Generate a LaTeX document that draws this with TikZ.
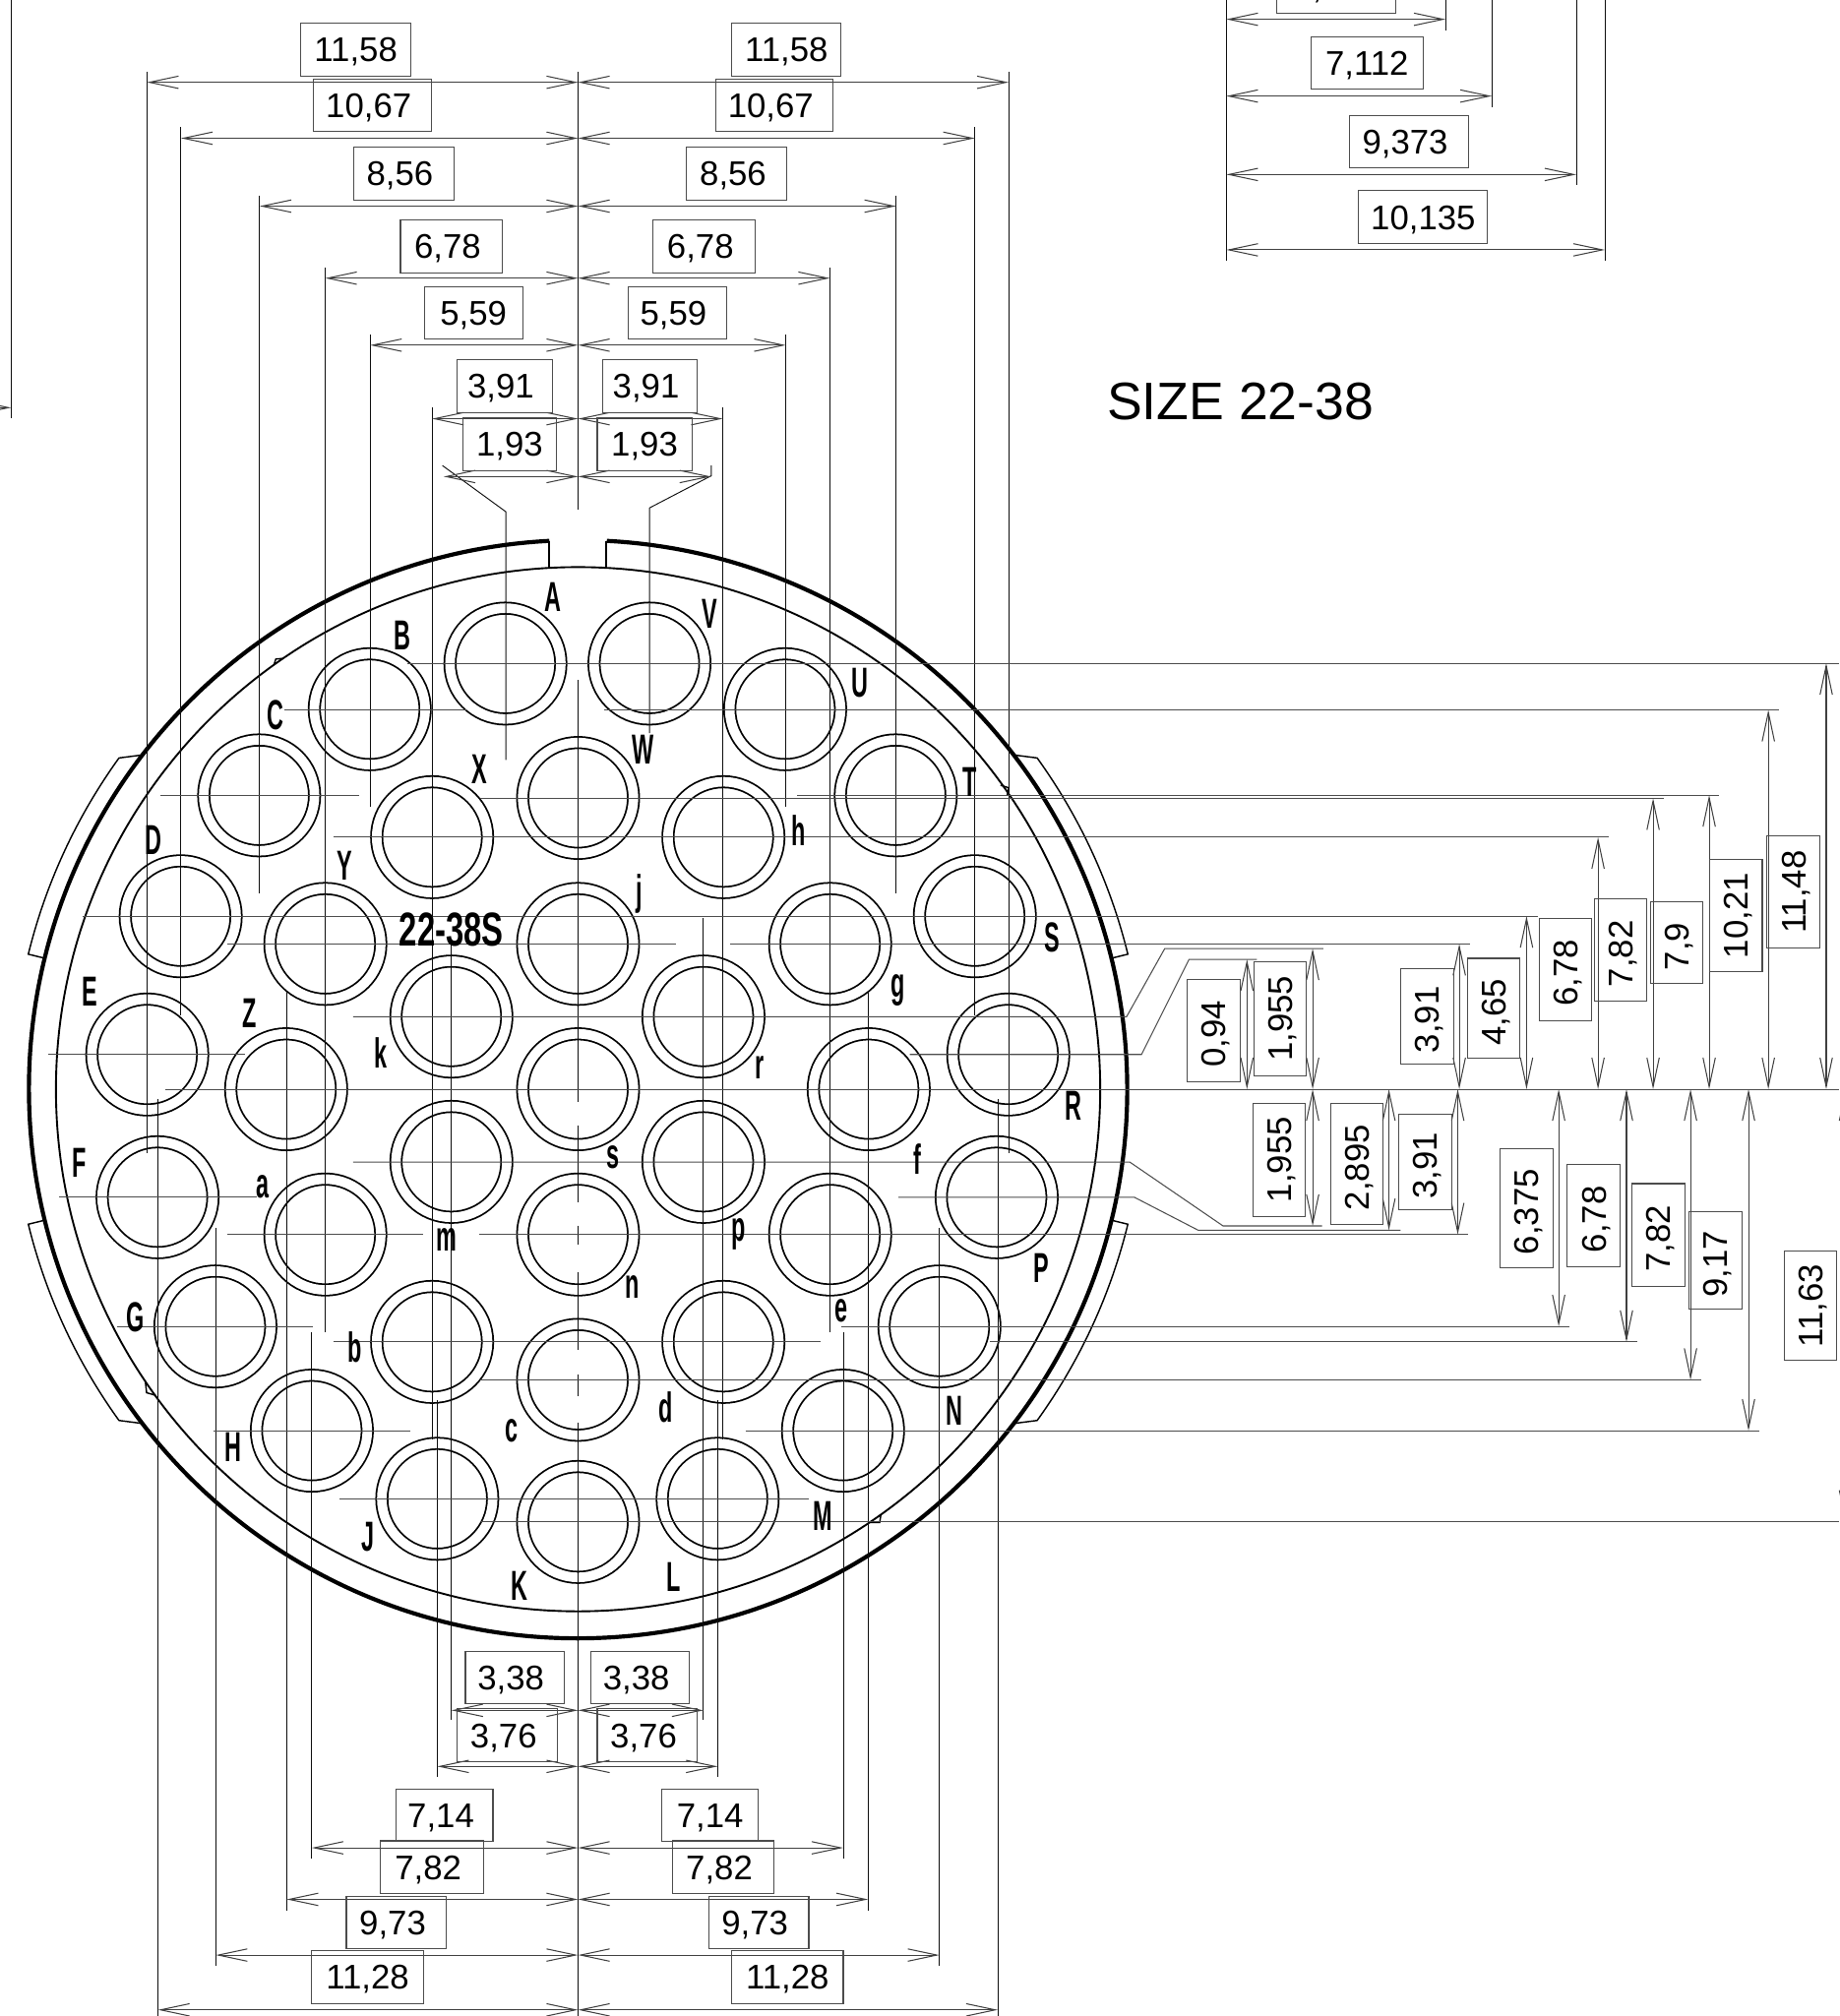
\documentclass[tikz,border=0pt]{standalone}
\usepackage{fontspec}
\setmainfont{Liberation Sans}
\usetikzlibrary{arrows.meta,calc}
\newcommand{\narrowtext}[1]{\scalebox{.55}[1]{\bfseries #1}}
\newcommand{\dimtext}[1]{#1\kern3pt}
\tikzset{
    pinring/.style={circle,draw,double,line width=.68pt,double distance=3.72pt,minimum size=43.1pt,inner sep=0pt},
    pinlabel/.style={font=\fontsize{16.3}{18}\selectfont,inner sep=0pt},
    rimline/.style={line width=1.6pt},
    wallline/.style={line width=.72pt},
    tabline/.style={line width=.55pt},
    extline/.style={line width=.36pt,black!95},
    rowline/.style={line width=.4pt,black!70},
    dimarrow/.style={line width=.4pt,black!75,{Straight Barb[length=11.3pt,width=4.8pt]}-{Straight Barb[length=11.3pt,width=4.8pt]}},
    dimbox/.style={draw,line width=.4pt,black!70,text=black,font=\fontsize{13.3}{15}\selectfont,inner sep=0pt,minimum height=20.5pt,text height=9.5pt,text depth=0pt},
    dimboxv/.style={dimbox,rotate=90}
}
\begin{document}
\begin{tikzpicture}[x=0.5pt,y=-0.5pt]
    \useasboundingbox (0,0) rectangle (1430,1567.7);
    \coordinate (ctr) at (449.5,847);
    % contacts
    \node[pinring] (pinA) at (393,516) {};
    \node[pinring] (pinV) at (505,516) {};
    \node[pinring] (pinB) at (287.5,551.5) {};
    \node[pinring] (pinU) at (610.5,551.5) {};
    \node[pinring] (pinC) at (201.5,618.5) {};
    \node[pinring] (pinT) at (696.5,618.5) {};
    \node[pinring] (pinX) at (336,651) {};
    \node[pinring] (pinW) at (449.5,620.5) {};
    \node[pinring] (pinh) at (562.5,651) {};
    \node[pinring] (pinD) at (140.5,712.5) {};
    \node[pinring] (pinY) at (253,734) {};
    \node[pinring] (pinj) at (449.5,734) {};
    \node[pinring] (ping) at (645.5,734) {};
    \node[pinring] (pinS) at (758,712.5) {};
    \node[pinring] (pink) at (351,790.5) {};
    \node[pinring] (pinr) at (547,790.5) {};
    \node[pinring] (pinE) at (114.5,820) {};
    \node[pinring] (pinR) at (784,820) {};
    \node[pinring] (pinZ) at (222.5,847) {};
    \node[pinring] (pint) at (449.5,847) {};
    \node[pinring] (pinf) at (675.5,847) {};
    \node[pinring] (pinm) at (351,903.5) {};
    \node[pinring] (pins) at (547,903.5) {};
    \node[pinring] (pinF) at (122.5,931) {};
    \node[pinring] (pinP) at (775,931) {};
    \node[pinring] (pina) at (253,960) {};
    \node[pinring] (pinn) at (449.5,960) {};
    \node[pinring] (pinp) at (645.5,960) {};
    \node[pinring] (pinG) at (167.5,1031.5) {};
    \node[pinring] (pinN) at (730.5,1031.5) {};
    \node[pinring] (pinb) at (336,1043.5) {};
    \node[pinring] (pind) at (562.5,1043.5) {};
    \node[pinring] (pinc) at (449.5,1073) {};
    \node[pinring] (pinH) at (242.5,1112.5) {};
    \node[pinring] (pinM) at (655.5,1112.5) {};
    \node[pinring] (pinJ) at (340,1165.5) {};
    \node[pinring] (pinL) at (558,1165.5) {};
    \node[pinring] (pinK) at (449.5,1183.5) {};
    % shell, wall and key
    \draw[rimline] (ctr) ++(93:213.5pt) arc[start angle=93,end angle=447,radius=213.5pt];
    \draw[wallline] (ctr) circle (406);
    \draw[wallline] (427,421) -- (427,441.6);
    \draw[wallline] (471,421) -- (471,441.6);
    % bayonet tabs
    \draw[tabline] (ctr) ++(13.8:213.5pt) -- ++(13.8:6.6pt) arc[start angle=13.8,end angle=35.8,radius=220.25pt] -- ($(ctr)+(37.5:213.5pt)$);
    \draw[tabline] (ctr) ++(166.2:213.5pt) -- ++(166.2:6.6pt) arc[start angle=166.2,end angle=144.2,radius=220.25pt] -- ($(ctr)+(142.5:213.5pt)$);
    \draw[tabline] (ctr) ++(-13.8:213.5pt) -- ++(-13.8:6.6pt) arc[start angle=-13.8,end angle=-35.8,radius=220.25pt] -- ($(ctr)+(-37.5:213.5pt)$);
    \draw[tabline] (ctr) ++(-166.2:213.5pt) -- ++(-166.2:6.6pt) arc[start angle=-166.2,end angle=-144.2,radius=220.25pt] -- ($(ctr)+(-142.5:213.5pt)$);
    % small marks on the wall
    \draw[tabline] (213,517) -- (214.5,512.5) -- (220,512);
    \draw[tabline] (778,610.6) -- (784.4,612.6) -- (783.2,618.4);
    \draw[tabline] (113,1074) -- (114,1083) -- (121,1085);
    \draw[tabline] (685,1177.7) -- (684,1184) -- (676,1184);
    % extension lines, top
    \draw[extline] (114.3,55.6) -- (114.3,896.6);
    \draw[extline] (140.7,98.8) -- (140.7,789.6);
    \draw[extline] (201.9,152) -- (201.9,695);
    \draw[extline] (252.9,207.8) -- (252.9,1036);
    \draw[extline] (287.8,260) -- (287.8,627.6);
    \draw[extline] (336,316.6) -- (336,1119.6);
    \draw[extline] (344,362) -- (393.4,398) -- (393.4,591);
    \draw[extline] (553,362) -- (553,370) -- (505,395) -- (505,570);
    \draw[extline] (562,316.6) -- (562,1119.6);
    \draw[extline] (611,260) -- (611,627.6);
    \draw[extline] (645.3,207.8) -- (645.3,1036);
    \draw[extline] (696.8,152) -- (696.8,695);
    \draw[extline] (758,98.8) -- (758,789.6);
    \draw[extline] (784.3,55.6) -- (784.3,896.6);
    \draw[extline] (449.5,55.6) -- (449.5,396);
    % centre line
    \draw[extline] (449.5,529) -- (449.5,857);
    \draw[extline] (449.5,875) -- (449.5,935);
    \draw[extline] (449.5,953) -- (449.5,968);
    \draw[extline] (449.5,989) -- (449.5,1050);
    \draw[extline] (449.5,1069) -- (449.5,1086);
    \draw[extline] (449.5,1106) -- (449.5,1568);
    % extension lines, bottom
    \draw[extline] (122.9,854.6) -- (122.9,1568);
    \draw[extline] (167.8,955) -- (167.8,1528.5);
    \draw[extline] (222.9,771) -- (222.9,1485.6);
    \draw[extline] (242.4,1036) -- (242.4,1445.5);
    \draw[extline] (340,1089) -- (340,1382);
    \draw[extline] (351,734) -- (351,1337.7);
    \draw[extline] (547,714) -- (547,1337.7);
    \draw[extline] (558,1089) -- (558,1382);
    \draw[extline] (655.7,1036) -- (655.7,1445.5);
    \draw[extline] (675,771) -- (675,1485.6);
    \draw[extline] (730.4,955) -- (730.4,1528.5);
    \draw[extline] (775.8,854.6) -- (775.8,1568);
    % extension lines, top right and top left
    \draw[extline] (953.6,0) -- (953.6,202.8);
    \draw[extline] (1124,0) -- (1124,23.5);
    \draw[extline] (1160,0) -- (1160,83.4);
    \draw[extline] (1225.7,0) -- (1225.7,144);
    \draw[extline] (1247.9,0) -- (1247.9,202.8);
    \draw[extline] (8.6,0) -- (8.6,325);
    % row lines
    \draw[rowline] (317,515.7) -- (1430,515.7);
    \draw[rowline] (221,552) -- (363,552);
    \draw[rowline] (470,552) -- (1383,552);
    \draw[rowline] (125,618.3) -- (279,618.3);
    \draw[rowline] (620,618.3) -- (1337,618.3);
    \draw[rowline] (373,620.8) -- (1294,620.8);
    \draw[rowline] (259,651) -- (1251,651);
    \draw[rowline] (64,712.4) -- (1195.6,712.4);
    \draw[rowline] (177,734) -- (525.5,734);
    \draw[rowline] (568,734) -- (1143,734);
    \draw[rowline] (274.6,790.6) -- (876,790.6) -- (905.7,737.6) -- (1029,737.6);
    \draw[rowline] (37.7,820) -- (190.6,820);
    \draw[rowline] (707.5,820) -- (887.6,820) -- (924.6,746) -- (977.4,746);
    \draw[rowline] (128.5,847) -- (1430,847);
    \draw[rowline] (274.6,903.6) -- (878.4,903.6) -- (951,953.3) -- (1028,953.3);
    \draw[rowline] (46,931) -- (199.6,931);
    \draw[rowline] (698.6,931) -- (882,931) -- (931.6,956.6) -- (1089,956.6);
    \draw[rowline] (177,960) -- (329,960);
    \draw[rowline] (372.6,960) -- (1141.6,960);
    \draw[rowline] (90.7,1031.4) -- (243.4,1031.4);
    \draw[rowline] (654,1031.4) -- (1220,1031.4);
    \draw[rowline] (259,1043.5) -- (638,1043.5);
    \draw[rowline] (770,1043.5) -- (1273,1043.5);
    \draw[rowline] (373.5,1073) -- (1323,1073);
    \draw[rowline] (166,1112.5) -- (319,1112.5);
    \draw[rowline] (579.6,1112.5) -- (1368,1112.5);
    \draw[rowline] (264,1165.4) -- (629,1165.4);
    \draw[rowline] (373.5,1183.4) -- (1430,1183.4);
    % dimension arrows, top
    \draw[dimarrow] (114.3,64) -- (449.5,64);
    \draw[dimarrow] (449.5,64) -- (784.3,64);
    \draw[dimarrow] (140.7,107.5) -- (449.5,107.5);
    \draw[dimarrow] (449.5,107.5) -- (758,107.5);
    \draw[dimarrow] (201.9,160.3) -- (449.5,160.3);
    \draw[dimarrow] (449.5,160.3) -- (696.8,160.3);
    \draw[dimarrow] (252.9,216.3) -- (449.5,216.3);
    \draw[dimarrow] (449.5,216.3) -- (645.3,216.3);
    \draw[dimarrow] (287.8,268.4) -- (449.5,268.4);
    \draw[dimarrow] (449.5,268.4) -- (611,268.4);
    \draw[dimarrow] (336,325.6) -- (449.5,325.6);
    \draw[dimarrow] (449.5,325.6) -- (562,325.6);
    \draw[dimarrow] (345,370.6) -- (449.5,370.6);
    \draw[dimarrow] (449.5,370.6) -- (553,370.6);
    % dimension arrows, bottom
    \draw[dimarrow] (351,1330) -- (449.5,1330);
    \draw[dimarrow] (449.5,1330) -- (547,1330);
    \draw[dimarrow] (340,1373.6) -- (449.5,1373.6);
    \draw[dimarrow] (449.5,1373.6) -- (558,1373.6);
    \draw[dimarrow] (242.4,1436.9) -- (449.5,1436.9);
    \draw[dimarrow] (449.5,1436.9) -- (655.7,1436.9);
    \draw[dimarrow] (222.9,1477) -- (449.5,1477);
    \draw[dimarrow] (449.5,1477) -- (675,1477);
    \draw[dimarrow] (167.8,1520.3) -- (449.5,1520.3);
    \draw[dimarrow] (449.5,1520.3) -- (730.4,1520.3);
    \draw[dimarrow] (122.9,1562.9) -- (449.5,1562.9);
    \draw[dimarrow] (449.5,1562.9) -- (775.8,1562.9);
    % dimension arrows, top right and top left
    \draw[dimarrow] (953.6,15) -- (1124,15);
    \draw[dimarrow] (953.6,74.7) -- (1160,74.7);
    \draw[dimarrow] (953.6,135.7) -- (1225.7,135.7);
    \draw[dimarrow] (953.6,194.3) -- (1247.9,194.3);
    \draw[dimarrow] (-60,317) -- (8.6,317);
    % dimension arrows, right
    \draw[dimarrow] (1420,515.7) -- (1420,847);
    \draw[dimarrow] (1375,552) -- (1375,847);
    \draw[dimarrow] (1329,618.3) -- (1329,847);
    \draw[dimarrow] (1285.4,620.8) -- (1285.4,847);
    \draw[dimarrow] (1242.6,651) -- (1242.6,847);
    \draw[dimarrow] (1187,712.4) -- (1187,847);
    \draw[dimarrow] (1134.7,734) -- (1134.7,847);
    \draw[dimarrow] (1020.7,737.6) -- (1020.7,847);
    \draw[dimarrow] (969.6,746) -- (969.6,847);
    \draw[dimarrow] (1020.7,847) -- (1020.7,953.3);
    \draw[dimarrow] (1080,847) -- (1080,956.6);
    \draw[dimarrow] (1133.5,847) -- (1133.5,960);
    \draw[dimarrow] (1212,847) -- (1212,1031.4);
    \draw[dimarrow] (1264.7,847) -- (1264.7,1043.5);
    \draw[dimarrow] (1314.5,847) -- (1314.5,1073);
    \draw[dimarrow] (1359.6,847) -- (1359.6,1112.5);
    \draw[dimarrow] (1435,847) -- (1435,1183.4);
    % dimension boxes, top
    \node[dimbox,minimum width=42.7pt] (boxTal) at (276.7,38.7) {11,58};
    \node[dimbox,minimum width=42.5pt] (boxTar) at (611.5,38.7) {11,58};
    \node[dimbox,minimum width=45.7pt] (boxTbl) at (289.7,82) {\dimtext{10,67}};
    \node[dimbox,minimum width=45.7pt] (boxTbr) at (602.3,82) {\dimtext{10,67}};
    \node[dimbox,minimum width=39pt] (boxTcl) at (314,134.9) {\dimtext{8,56}};
    \node[dimbox,minimum width=39pt] (boxTcr) at (573,134.9) {\dimtext{8,56}};
    \node[dimbox,minimum width=39.7pt] (boxTdl) at (351.1,191.5) {\dimtext{6,78}};
    \node[dimbox,minimum width=39.7pt] (boxTdr) at (547.6,191.5) {\dimtext{6,78}};
    \node[dimbox,minimum width=38.2pt] (boxTel) at (368.2,243.4) {5,59};
    \node[dimbox,minimum width=38.2pt] (boxTer) at (526.6,243.4) {\dimtext{5,59}};
    \node[dimbox,minimum width=37pt] (boxTfl) at (392.4,300.2) {\dimtext{3,91}};
    \node[dimbox,minimum width=36.7pt] (boxTfr) at (505.3,300.2) {\dimtext{3,91}};
    \node[dimbox,minimum width=36.5pt] (boxTgl) at (396.2,345.3) {1,93};
    \node[dimbox,minimum width=36.8pt] (boxTgr) at (501.2,345.3) {1,93};
    % dimension boxes, bottom
    \node[dimbox,minimum width=38.3pt] (boxBal) at (400.2,1304.5) {\dimtext{3,38}};
    \node[dimbox,minimum width=38.3pt] (boxBar) at (497.8,1304.5) {\dimtext{3,38}};
    \node[dimbox,minimum width=39pt] (boxBbl) at (394.6,1349.4) {\dimtext{3,76}};
    \node[dimbox,minimum width=39pt] (boxBbr) at (503.4,1349.4) {\dimtext{3,76}};
    \node[dimbox,minimum width=37.5pt] (boxBcl) at (345.8,1411.6) {\dimtext{7,14}};
    \node[dimbox,minimum width=37.5pt] (boxBcr) at (552.2,1411.6) {7,14};
    \node[dimbox,minimum width=40pt] (boxBdl) at (336,1452) {\dimtext{7,82}};
    \node[dimbox,minimum width=39.7pt] (boxBdr) at (562.3,1452) {\dimtext{7,82}};
    \node[dimbox,minimum width=39pt] (boxBel) at (308.3,1494.9) {\dimtext{9,73}};
    \node[dimbox,minimum width=39pt] (boxBer) at (589.9,1494.9) {\dimtext{9,73}};
    \node[dimbox,minimum width=43.4pt] (boxBfl) at (285.8,1537.4) {11,28};
    \node[dimbox,minimum width=43.4pt] (boxBfr) at (612.3,1537.4) {11,28};
    % dimension boxes, top right
    \node[dimbox,minimum width=46.3pt] (boxHa) at (1039,-10.5) {5,868};
    \node[dimbox,minimum width=43.6pt] (boxHb) at (1062.9,49.1) {7,112};
    \node[dimbox,minimum width=46.4pt] (boxHc) at (1095.6,110.2) {\dimtext{9,373}};
    \node[dimbox,minimum width=50.1pt] (boxHd) at (1106.6,168.9) {10,135};
    % dimension boxes, right
    \node[dimboxv,minimum width=39.9pt] (boxVa) at (943.7,801.2) {\dimtext{0,94}};
    \node[dimboxv,minimum width=44.2pt] (boxVb) at (995.3,792.2) {1,955};
    \node[dimboxv,minimum width=37.1pt] (boxVc) at (1109.6,790) {\dimtext{3,91}};
    \node[dimboxv,minimum width=39pt] (boxVd) at (1161.4,784.2) {\dimtext{4,65}};
    \node[dimboxv,minimum width=39.9pt] (boxVe) at (1217.4,753.8) {\dimtext{6,78}};
    \node[dimboxv,minimum width=39.9pt] (boxVf) at (1260,738.7) {\dimtext{7,82}};
    \node[dimboxv,minimum width=32pt] (boxVg) at (1303.7,732.9) {\dimtext{7,9}};
    \node[dimboxv,minimum width=43.5pt] (boxVh) at (1349.8,712) {10,21};
    \node[dimboxv,minimum width=43.5pt] (boxVi) at (1394.5,693.6) {11,48};
    \node[dimboxv,minimum width=44.1pt] (boxWa) at (994.7,901.8) {1,955};
    \node[dimboxv,minimum width=47pt] (boxWb) at (1055,905) {\dimtext{2,895}};
    \node[dimboxv,minimum width=37pt] (boxWc) at (1108.2,903.6) {\dimtext{3,91}};
    \node[dimboxv,minimum width=46.4pt] (boxWd) at (1187,939.3) {\dimtext{6,375}};
    \node[dimboxv,minimum width=39.9pt] (boxWe) at (1239.2,945.3) {\dimtext{6,78}};
    \node[dimboxv,minimum width=39.9pt] (boxWf) at (1289.5,960.3) {\dimtext{7,82}};
    \node[dimboxv,minimum width=37.8pt] (boxWg) at (1334,979.8) {\dimtext{9,17}};
    \node[dimboxv,minimum width=42.7pt] (boxWh) at (1407.8,1015.4) {11,63};
    % title and insert marking
    \node[font=\fontsize{20.5}{24}\selectfont,inner sep=0pt] (sizetitle) at (964.5,312) {SIZE 22-38};
    \node[pinlabel,font=\fontsize{18.5}{20}\selectfont] (insert) at (351,723) {\scalebox{.68}[1]{\bfseries 22-38S}};
    % contact letters
    \node[pinlabel] (labA) at (430,464) {\narrowtext{A}};
    \node[pinlabel] (labV) at (552,477) {\narrowtext{V}};
    \node[pinlabel] (labB) at (313,494) {\narrowtext{B}};
    \node[pinlabel] (labU) at (669,531) {\narrowtext{U}};
    \node[pinlabel] (labC) at (214,556) {\narrowtext{C}};
    \node[pinlabel] (labT) at (754,608) {\narrowtext{T}};
    \node[pinlabel] (labX) at (373,598) {\narrowtext{X}};
    \node[pinlabel] (labW) at (500,583) {\narrowtext{W}};
    \node[pinlabel] (labh) at (621,646) {\narrowtext{h}};
    \node[pinlabel] (labD) at (119,653) {\narrowtext{D}};
    \node[pinlabel] (labY) at (268,673) {\narrowtext{Y}};
    \node[pinlabel] (labS) at (818,729) {\narrowtext{S}};
    \node[pinlabel] (labj) at (497,695) {\narrowtext{j}};
    \node[pinlabel] (labg) at (698,770) {\narrowtext{g}};
    \node[pinlabel] (labk) at (296,819) {\narrowtext{k}};
    \node[pinlabel] (labr) at (591,830) {\narrowtext{r}};
    \node[pinlabel] (labE) at (70,771) {\narrowtext{E}};
    \node[pinlabel] (labZ) at (194,788) {\narrowtext{Z}};
    \node[pinlabel] (labf) at (713,901) {\narrowtext{f}};
    \node[pinlabel] (labR) at (835,860) {\narrowtext{R}};
    \node[pinlabel] (labF) at (62,904) {\narrowtext{F}};
    \node[pinlabel] (laba) at (204,923) {\narrowtext{a}};
    \node[pinlabel] (labs) at (477,900) {\narrowtext{s}};
    \node[pinlabel] (labm) at (347,964) {\narrowtext{m}};
    \node[pinlabel] (labp) at (574,960) {\narrowtext{p}};
    \node[pinlabel] (labP) at (810,986) {\narrowtext{P}};
    \node[pinlabel] (labn) at (492,1001) {\narrowtext{n}};
    \node[pinlabel] (labG) at (105,1024) {\narrowtext{G}};
    \node[pinlabel] (labe) at (654,1019) {\narrowtext{e}};
    \node[pinlabel] (labb) at (276,1048) {\narrowtext{b}};
    \node[pinlabel] (labc) at (398,1113) {\narrowtext{c}};
    \node[pinlabel] (labd) at (518,1094) {\narrowtext{d}};
    \node[pinlabel] (labN) at (742,1097) {\narrowtext{N}};
    \node[pinlabel] (labH) at (181,1125) {\narrowtext{H}};
    \node[pinlabel] (labM) at (640,1179) {\narrowtext{M}};
    \node[pinlabel] (labJ) at (286,1195) {\narrowtext{J}};
    \node[pinlabel] (labL) at (524,1226) {\narrowtext{L}};
    \node[pinlabel] (labK) at (404,1233) {\narrowtext{K}};
\end{tikzpicture}
\end{document}
